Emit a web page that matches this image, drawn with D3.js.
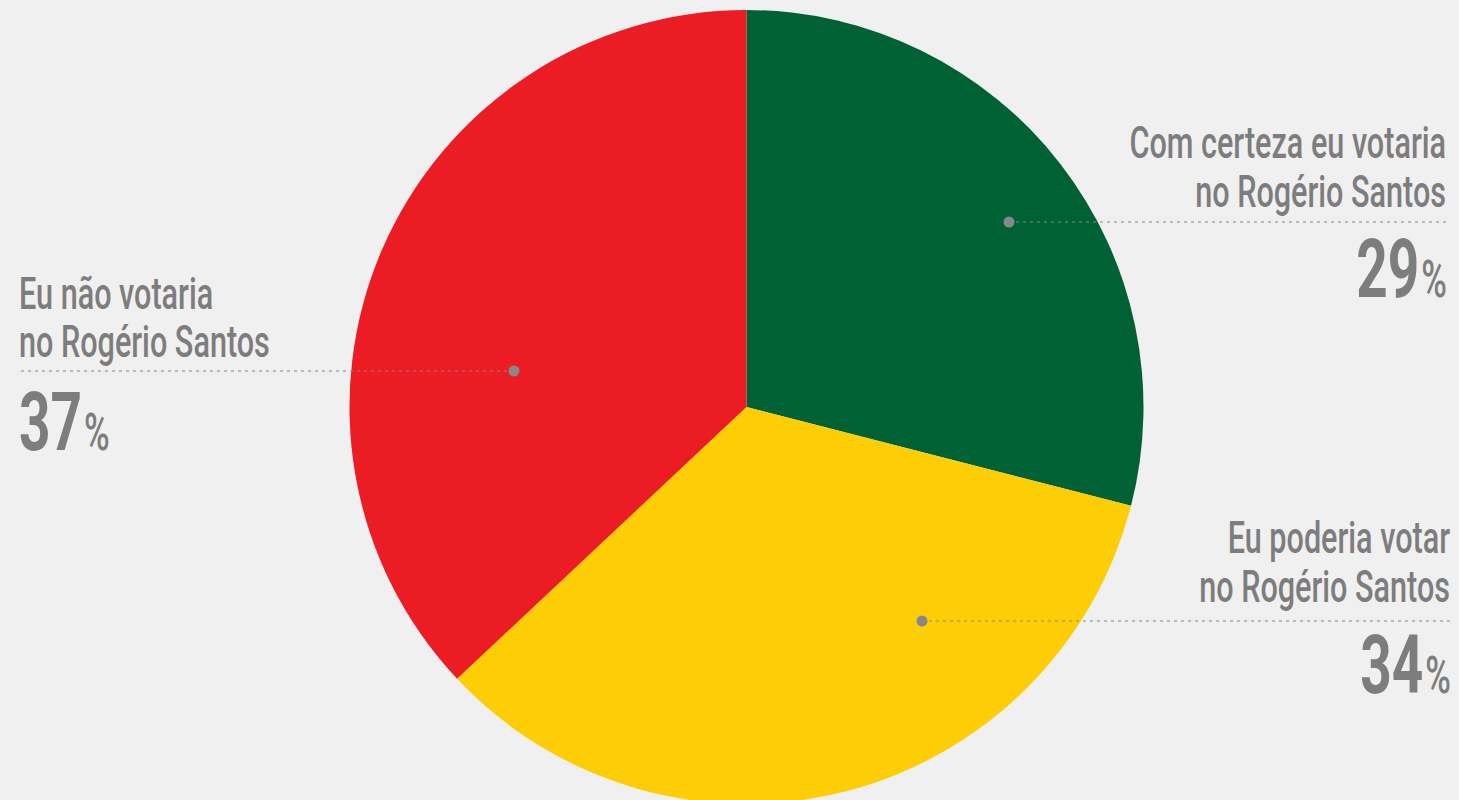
<!DOCTYPE html>
<html><head><meta charset="utf-8">
<script src="https://cdn.jsdelivr.net/npm/d3@7"></script>
<style>
html,body{margin:0;padding:0;background:#f0f0f0;}
svg{display:block;}
</style></head>
<body>
<svg id="chart" width="1459" height="800"></svg>
<script>
// ---- data ----
const categories = ["Com certeza eu votaria no Rogério Santos", "Eu poderia votar no Rogério Santos", "Eu não votaria no Rogério Santos"];
const values = [29, 34, 37];
const labelLines = [["Com certeza eu votaria", "no Rogério Santos"], ["Eu poderia votar", "no Rogério Santos"], ["Eu não votaria", "no Rogério Santos"]];
const colors = ["#006134", "#fdcd05", "#ec1c24"];

// ---- layout ----
const W = 1459, H = 800;
const cx = 746.5, cy = 407, R = 397;
const textColor = "#7d7d7d", dotColor = "#88888c";
const annot = [
  {dot:[1009, 222], lineEnd:1447, side:"end", x:1446, b1:158, b2:207, bn:297},
  {dot:[922, 621], lineEnd:1451, side:"end", x:1450, b1:553, b2:602, bn:693},
  {dot:[514, 371], lineEnd:19, side:"start", x:19, b1:309, b2:357, bn:450}
];

const svg = d3.select("#chart");
svg.append("rect").attr("width", W).attr("height", H).attr("fill", "#f0f0f0");

const pie = d3.pie().sort(null).value(d => d)(values);
const arc = d3.arc().innerRadius(0).outerRadius(R);
const g = svg.append("g").attr("transform", `translate(${cx},${cy})`);
g.selectAll("path").data(pie).join("path")
  .attr("d", arc)
  .attr("fill", (d, i) => colors[i]);

const probe = svg.append("text").attr("font-family", "Roboto").attr("font-weight", 500).attr("font-size", 44).text("no Rogério Santos");
const kLab = 251 / probe.node().getComputedTextLength();
probe.attr("font-weight", 700).attr("font-size", 82).text("29");
const kNum = 63 / probe.node().getComputedTextLength();
probe.remove();

annot.forEach((a, i) => {
  svg.append("line")
    .attr("x1", a.dot[0]).attr("y1", a.dot[1])
    .attr("x2", a.lineEnd).attr("y2", a.dot[1])
    .attr("stroke", dotColor).attr("stroke-width", 1.2)
    .attr("stroke-dasharray", "3,4");
  svg.append("circle").attr("cx", a.dot[0]).attr("cy", a.dot[1]).attr("r", 5.5).attr("fill", dotColor);

  const tg = svg.append("g").attr("transform", `translate(${a.x},0) scale(${kLab},1)`);
  [a.b1, a.b2].forEach((b, j) => {
    tg.append("text").attr("x", 0).attr("y", b)
      .attr("text-anchor", a.side)
      .attr("font-family", "Roboto").attr("font-weight", 500).attr("font-size", 44)
      .attr("fill", textColor).text(labelLines[i][j]);
  });
  const ng = svg.append("g").attr("transform", `translate(${a.x + (a.side === "end" ? 1 : 0)},0) scale(${kNum},1)`);
  const t = ng.append("text").attr("x", 0).attr("y", a.bn)
    .attr("text-anchor", a.side)
    .attr("font-family", "Roboto").attr("font-weight", 700)
    .attr("fill", textColor);
  t.append("tspan").attr("font-size", 82).text(values[i]);
  t.append("tspan").attr("font-size", 52).attr("font-weight", 500).attr("dx", 3).text("%");
});
</script>
</body></html>
